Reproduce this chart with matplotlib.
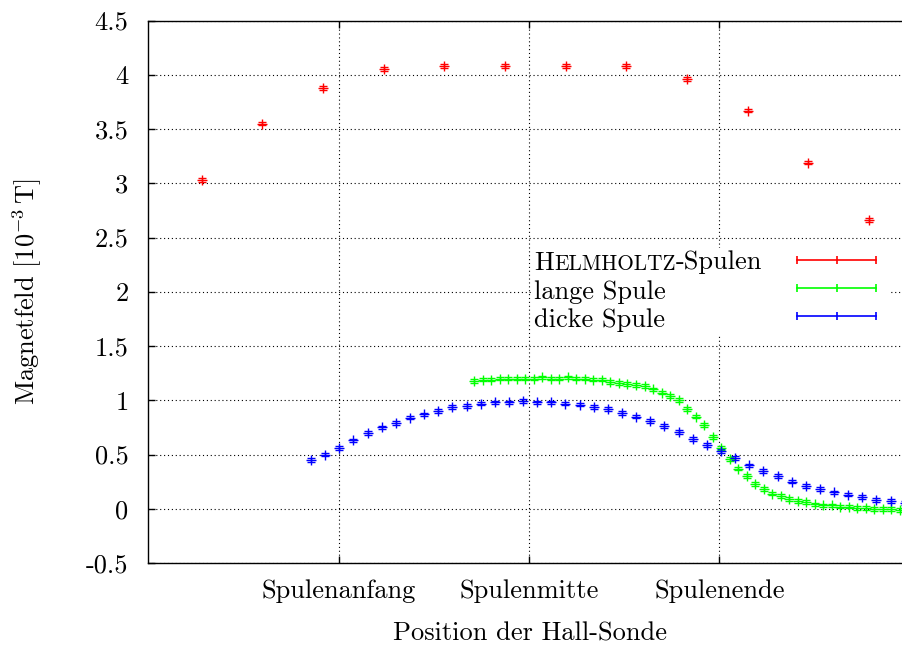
import numpy as np
import matplotlib
matplotlib.use("Agg")
import matplotlib.pyplot as plt
from matplotlib.lines import Line2D
from matplotlib.patches import Rectangle
from matplotlib.legend_handler import HandlerLine2D
from matplotlib.font_manager import FontProperties

plt.rcParams["font.family"] = "cmr10"
plt.rcParams["mathtext.fontset"] = "cm"
plt.rcParams["axes.unicode_minus"] = False
plt.rcParams["font.size"] = 19

# ---- measurement data (B in 10^-3 T), probe positions in arbitrary units ----
helmholtz_start, helmholtz_step = 2.82, 3.184
helmholtz_B = [3.03, 3.55, 3.88, 4.05, 4.08, 4.08, 4.08, 4.08, 3.96, 3.67, 3.19, 2.66]

lange_start, lange_step = 17.13, 0.4467
lange_B = [1.18, 1.19, 1.19, 1.20, 1.20, 1.20, 1.20, 1.20, 1.21, 1.20,
           1.20, 1.21, 1.20, 1.20, 1.19, 1.19, 1.17, 1.16, 1.15, 1.14,
           1.13, 1.10, 1.07, 1.04, 1.00, 0.92, 0.85, 0.77, 0.66, 0.56,
           0.46, 0.37, 0.30, 0.23, 0.18, 0.14, 0.12, 0.09, 0.07, 0.06,
           0.04, 0.03, 0.03, 0.02, 0.02, 0.01, 0.01, 0.00, 0.00, 0.00, -0.01]

dicke_start, dicke_step = 8.56, 0.742
dicke_B = [0.45, 0.50, 0.56, 0.63, 0.70, 0.75, 0.79, 0.84, 0.87, 0.90,
           0.94, 0.95, 0.97, 0.98, 0.98, 0.99, 0.98, 0.98, 0.97, 0.96,
           0.94, 0.92, 0.88, 0.85, 0.81, 0.76, 0.71, 0.64, 0.59, 0.53,
           0.47, 0.40, 0.35, 0.30, 0.25, 0.21, 0.18, 0.15, 0.13, 0.11,
           0.08, 0.07, 0.05]

B_error = 0.017

x_ticks = [10, 20, 30]
x_ticklabels = ["Spulenanfang", "Spulenmitte", "Spulenende"]
y_ticks = [-0.5, 0, 0.5, 1, 1.5, 2, 2.5, 3, 3.5, 4, 4.5]
y_ticklabels = ["-0.5", "0", "0.5", "1", "1.5", "2", "2.5", "3", "3.5", "4", "4.5"]

series_colors = ["#ff0000", "#00ff00", "#0000ff"]

helmholtz_x = helmholtz_start + helmholtz_step * np.arange(len(helmholtz_B))
lange_x = lange_start + lange_step * np.arange(len(lange_B))
dicke_x = dicke_start + dicke_step * np.arange(len(dicke_B))

# ---- figure ----
W, H = 903, 649
fig = plt.figure(figsize=(W / 100, H / 100), dpi=100)
ax_left, ax_right, ax_top, ax_bottom = 148, 912, 20.5, 563
ax = fig.add_axes([ax_left / W, 1 - ax_bottom / H,
                   (ax_right - ax_left) / W, (ax_bottom - ax_top) / H])

ax.set_xlim(0, (ax_right - ax_left) / 19.05)
ax.set_ylim(-0.5, 4.5)

for xs, ys, c in [(helmholtz_x, helmholtz_B, series_colors[0]),
                  (lange_x, lange_B, series_colors[1]),
                  (dicke_x, dicke_B, series_colors[2])]:
    ax.errorbar(xs, ys, yerr=B_error, fmt="+", color=c, ms=7, mew=1.0,
                elinewidth=1.0, capsize=2.6, capthick=1.0, zorder=3)

ax.set_xticks(x_ticks)
ax.set_xticklabels(x_ticklabels)
ax.set_yticks(y_ticks)
ax.set_yticklabels(y_ticklabels)
ax.tick_params(direction="in", length=5, width=1, top=True, right=True)
ax.tick_params(axis="x", pad=11.5)
ax.tick_params(axis="y", pad=14)

ax.set_axisbelow(True)
ax.grid(True, color="black", linestyle=(0, (1, 2.5)), linewidth=0.8)
for s in ax.spines.values():
    s.set_linewidth(1.0)

ax.set_xlabel("Position der Hall-Sonde", labelpad=14)
ax.set_ylabel(r"Magnetfeld [10$^{-3}\,$T]")
ax.yaxis.set_label_coords((44 - ax_left) / (ax_right - ax_left), 0.5)

# ---- key ----
def ax_frac(px, py):
    return ((px - ax_left) / (ax_right - ax_left),
            (ax_bottom - py) / (ax_bottom - ax_top))

bx0, by0 = ax_frac(532, 336)
bx1, by1 = ax_frac(890, 248)
ax.add_patch(Rectangle((bx0, by0), bx1 - bx0, by1 - by0, transform=ax.transAxes,
                       facecolor="white", edgecolor="none", zorder=1.5))

key_handles = [Line2D([], [], color=c, lw=1.2, marker="|", ms=6, mew=1.2)
               for c in series_colors]
lx, ly = ax_frac(797, 249.5)
ax.legend(key_handles, ["", "", ""], loc="upper left", bbox_to_anchor=(lx, ly),
          frameon=False, numpoints=3, handlelength=3.0, handleheight=1.0,
          handletextpad=0, borderpad=0, borderaxespad=0, labelspacing=0.09,
          handler_map={Line2D: HandlerLine2D(marker_pad=0)})

tx, _ = ax_frac(534, 0)
_, yb1 = ax_frac(0, 270)
_, yb2 = ax_frac(0, 299)
_, yb3 = ax_frac(0, 327.3)

# Helmholtz in small caps: full-size initial, reduced capitals, full-size suffix
big, small = 19, 15.3
renderer = fig.canvas.get_renderer()
d_big = renderer.get_text_width_height_descent("lp", FontProperties(family="cmr10", size=big), ismath=False)[2]
t1 = ax.text(tx, yb1, "H", transform=ax.transAxes, va="baseline", ha="left",
             fontsize=big, zorder=6)
t2 = ax.annotate("ELMHOLTZ", xy=(1, 0), xycoords=t1, xytext=(0.5, d_big),
                 textcoords="offset pixels", va="baseline", ha="left",
                 fontsize=small, zorder=6)
t3 = ax.annotate("-Spulen", xy=(1, 0), xycoords=t2, xytext=(0, 0),
                 textcoords="offset pixels", va="bottom", ha="left",
                 fontsize=big, zorder=6)
ax.text(tx, yb2, "lange Spule", transform=ax.transAxes, va="baseline", ha="left", zorder=6)
ax.text(tx, yb3, "dicke Spule", transform=ax.transAxes, va="baseline", ha="left", zorder=6)

fig.savefig("out.png", dpi=100)
